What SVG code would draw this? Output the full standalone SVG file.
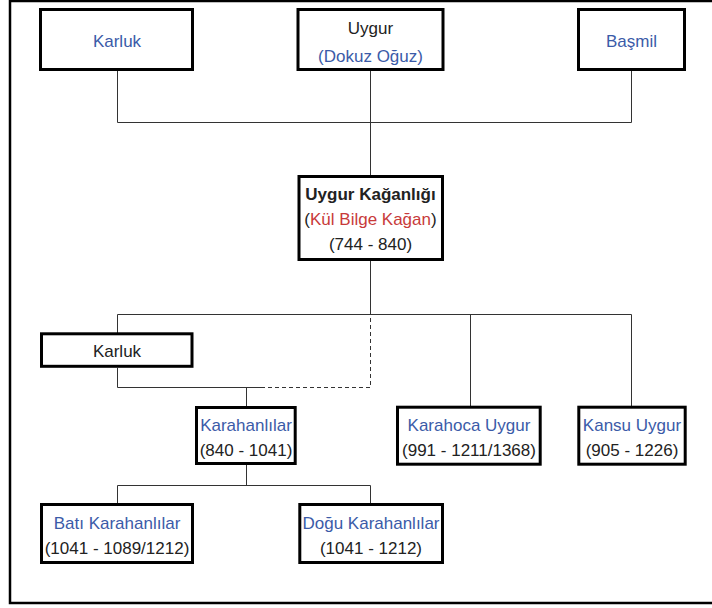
<svg xmlns="http://www.w3.org/2000/svg" width="712" height="608" viewBox="0 0 712 608">
<style>
text{font-family:"Liberation Sans",Arial,sans-serif;font-size:17px;text-anchor:middle;fill:#222}
.b{fill:#3b5ba8}
.r{fill:#c83a3a}
.bold{font-weight:bold}
.box{fill:#fff;stroke:#000;stroke-width:3}
.ln{fill:none;stroke:#333;stroke-width:1}
.dash{stroke-dasharray:4 3}
</style>
<rect width="712" height="608" fill="#fff"/>
<path d="M712,1 H10 V603 H712" fill="none" stroke="#000" stroke-width="2.5"/>
<g id="connectors">
<path class="ln" d="M117.5,71 V122.5 H631.5 V71"/>
<path class="ln" d="M370.5,71 V176"/>
<path class="ln" d="M370.5,261 V314.5"/>
<path class="ln" d="M117.5,333 V314.5 H631.5 V406"/>
<path class="ln" d="M470.5,314.5 V406"/>
<path class="ln dash" d="M370.5,318 V387.5 H265"/>
<path class="ln" d="M117.5,368 V387.5 H265"/>
<path class="ln" d="M246.5,387.5 V406"/>
<path class="ln" d="M246.5,465 V485.5"/>
<path class="ln" d="M117.5,503 V485.5 H370.5 V503"/>
</g>
<g id="karluk-top">
<rect class="box" x="40.5" y="9.5" width="152" height="60"/>
<text class="b" x="117" y="47">Karluk</text>
</g>
<g id="uygur">
<rect class="box" x="298" y="9.5" width="145" height="60"/>
<text x="370.5" y="33.5">Uygur</text>
<text class="b" x="370.5" y="62">(Dokuz Oğuz)</text>
</g>
<g id="basmil">
<rect class="box" x="578.5" y="9.5" width="106" height="60"/>
<text class="b" x="631.5" y="47">Başmil</text>
</g>
<g id="uygur-kaganligi">
<rect class="box" x="299" y="176.5" width="143.5" height="83"/>
<text class="bold" x="370.5" y="200">Uygur Kağanlığı</text>
<text x="370.5" y="225">(<tspan class="r">Kül Bilge Kağan</tspan>)</text>
<text x="370.5" y="250">(744 - 840)</text>
</g>
<g id="karluk-bottom">
<rect class="box" x="41.5" y="333.8" width="150.5" height="32.5"/>
<text x="117" y="357">Karluk</text>
</g>
<g id="karahanlilar">
<rect class="box" x="196.5" y="407.5" width="98.7" height="56"/>
<text class="b" x="246" y="430.5">Karahanlılar</text>
<text x="246" y="456">(840 - 1041)</text>
</g>
<g id="karahoca-uygur">
<rect class="box" x="397.5" y="407.2" width="142.7" height="57"/>
<text class="b" x="469" y="430.5">Karahoca Uygur</text>
<text x="469" y="456">(991 - 1211/1368)</text>
</g>
<g id="kansu-uygur">
<rect class="box" x="578.8" y="407.2" width="106.4" height="57"/>
<text class="b" x="632" y="430.5">Kansu Uygur</text>
<text x="632" y="456">(905 - 1226)</text>
</g>
<g id="bati-karahanlilar">
<rect class="box" x="41.5" y="504.5" width="151" height="58"/>
<text class="b" x="117" y="528.5">Batı Karahanlılar</text>
<text x="117" y="554">(1041 - 1089/1212)</text>
</g>
<g id="dogu-karahanlilar">
<rect class="box" x="299.8" y="504.5" width="142.7" height="58"/>
<text class="b" x="371" y="528.5">Doğu Karahanlılar</text>
<text x="371" y="554">(1041 - 1212)</text>
</g>
</svg>
